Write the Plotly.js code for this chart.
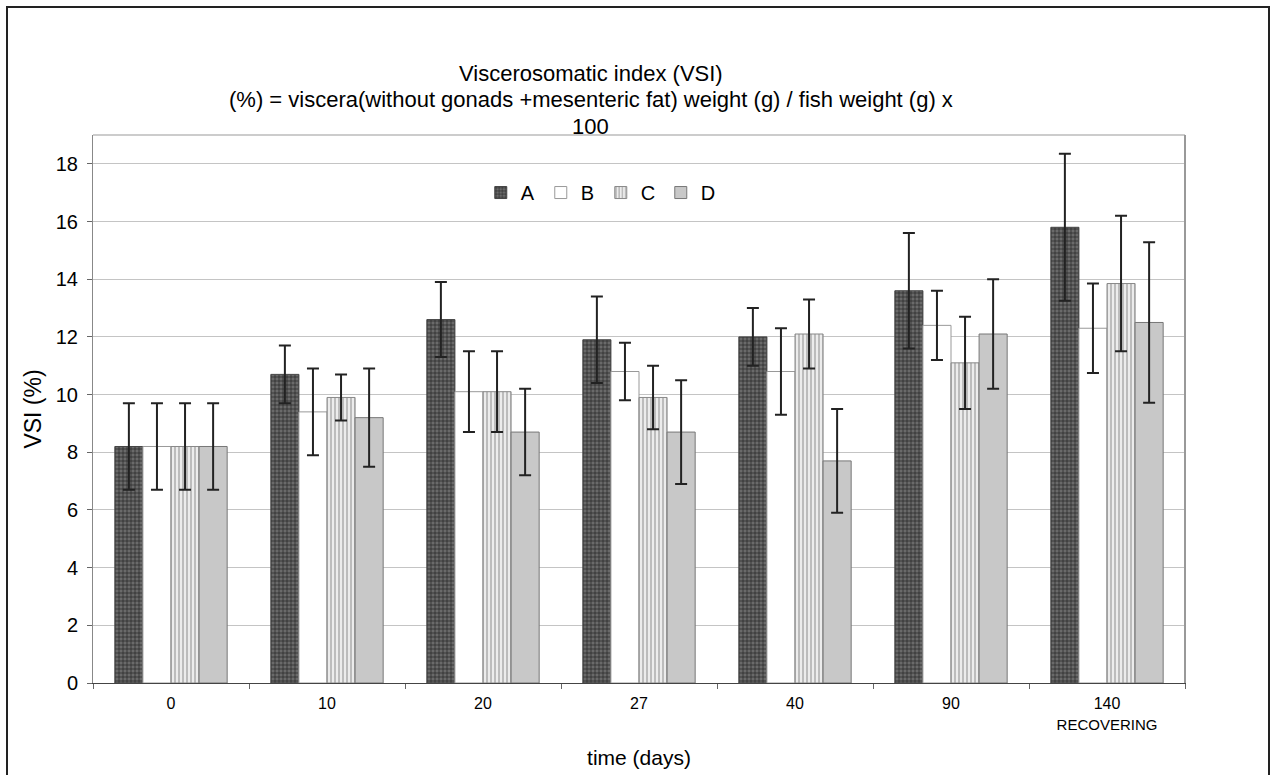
<!DOCTYPE html>
<html>
<head>
<meta charset="utf-8">
<script src="https://cdn.plot.ly/plotly-3.0.1.min.js"></script>
<style>
html,body{margin:0;padding:0;background:#fff;overflow:hidden;}
#frame{position:absolute;left:6px;top:6px;width:1264px;height:800px;border:2px solid #222;box-sizing:border-box;}
#chart{position:absolute;left:0;top:0;width:1277px;height:775px;}
</style>
</head>
<body>
<div id="frame"></div>
<div id="chart"></div>
<script>
const categories = ["0", "10", "20", "27", "40", "90", "140"];
const tickLabels = ["0", "10", "20", "27", "40", "90", "140<br><span style='font-size:15px'>RECOVERING</span>"];
const seriesNames = ["A", "B", "C", "D"];
const titleLines = ["Viscerosomatic index (VSI)", "(%) = viscera(without gonads +mesenteric fat) weight (g) / fish weight (g) x", "100"];
const valuesA = [8.2, 10.7, 12.6, 11.9, 12.0, 13.6, 15.8];
const valuesB = [8.2, 9.4, 10.1, 10.8, 10.8, 12.4, 12.3];
const valuesC = [8.2, 9.9, 10.1, 9.9, 12.1, 11.1, 13.85];
const valuesD = [8.2, 9.2, 8.7, 8.7, 7.7, 12.1, 12.5];
const errA = [1.5, 1.0, 1.3, 1.5, 1.0, 2.0, 2.55];
const errB = [1.5, 1.5, 1.4, 1.0, 1.5, 1.2, 1.55];
const errC = [1.5, 0.8, 1.4, 1.1, 1.2, 1.6, 2.35];
const errD = [1.5, 1.7, 1.5, 1.8, 1.8, 1.9, 2.78];

const errStyle = (arr) => ({type: 'data', array: arr, visible: true, color: '#222', thickness: 2, width: 6});

const traces = [
  {type:'bar', name: seriesNames[0], x: categories, y: valuesA, error_y: errStyle(errA),
   marker:{color:'#5a5a5a', line:{color:'#444', width:1},
     pattern:{shape:'+', fgcolor:'#222', bgcolor:'#6a6a6a', size:4, solidity:0.3}}},
  {type:'bar', name: seriesNames[1], x: categories, y: valuesB, error_y: errStyle(errB),
   marker:{color:'#ffffff', line:{color:'#999', width:1}}},
  {type:'bar', name: seriesNames[2], x: categories, y: valuesC, error_y: errStyle(errC),
   marker:{color:'#e6e6e6', line:{color:'#888', width:1},
     pattern:{shape:'|', fgcolor:'#a8a8a8', bgcolor:'#ececec', size:4, solidity:0.35}}},
  {type:'bar', name: seriesNames[3], x: categories, y: valuesD, error_y: errStyle(errD),
   marker:{color:'#c8c8c8', line:{color:'#777', width:1}}}
];

const titleY = [1.113, 1.064, 1.015];
const annotations = titleLines.map((t, i) => ({
  text: t, xref: 'paper', yref: 'paper', x: 0.456, y: titleY[i], xanchor: 'center', yanchor: 'middle',
  showarrow: false, font: {size: 22, color: '#000'}
}));

const layout = {
  width: 1277, height: 775,
  paper_bgcolor: 'rgba(0,0,0,0)', plot_bgcolor: '#fff',
  margin: {l: 93, r: 92, t: 135, b: 92},
  font: {family: 'Liberation Sans, Arial, sans-serif', color: '#000', size: 16},
  annotations: annotations,
  barmode: 'group', bargap: 0.28, bargroupgap: 0,
  showlegend: true,
  legend: {orientation: 'h', x: 0.465, xanchor: 'center', y: 0.895, yanchor: 'middle',
           font: {size: 20}, bgcolor: 'rgba(0,0,0,0)', itemwidth: 30, entrywidth: 15, tracegroupgap: 0},
  xaxis: {type: 'category', tickvals: categories, ticktext: tickLabels,
          tickson: 'boundaries', ticks: 'outside', ticklen: 5, tickcolor: '#666',
          showline: true, linecolor: '#444', linewidth: 1, mirror: false,
          tickfont: {size: 16}, ticklabelstandoff: 6, showgrid: false,
          title: {text: 'time (days)', font: {size: 21}, standoff: 18}},
  yaxis: {range: [0, 19], tickvals: [0,2,4,6,8,10,12,14,16,18], ticks: 'outside', ticklen: 5, tickcolor: '#666',
          showline: true, linecolor: '#888', linewidth: 1, mirror: true,
          showgrid: true, gridcolor: '#c4c4c4', gridwidth: 1, zeroline: false,
          tickfont: {size: 20}, ticklabelstandoff: 5,
          title: {text: 'VSI (%)', font: {size: 23}, standoff: 7}},
  shapes: [
    {type:'line', xref:'paper', yref:'paper', x0:1, x1:1, y0:0, y1:1, line:{color:'#999', width:2}},
    {type:'line', xref:'paper', yref:'paper', x0:0, x1:1, y0:1, y1:1, line:{color:'#999', width:1}}
  ]
};

Plotly.newPlot('chart', traces, layout, {displayModeBar: false, staticPlot: true});
</script>
</body>
</html>
